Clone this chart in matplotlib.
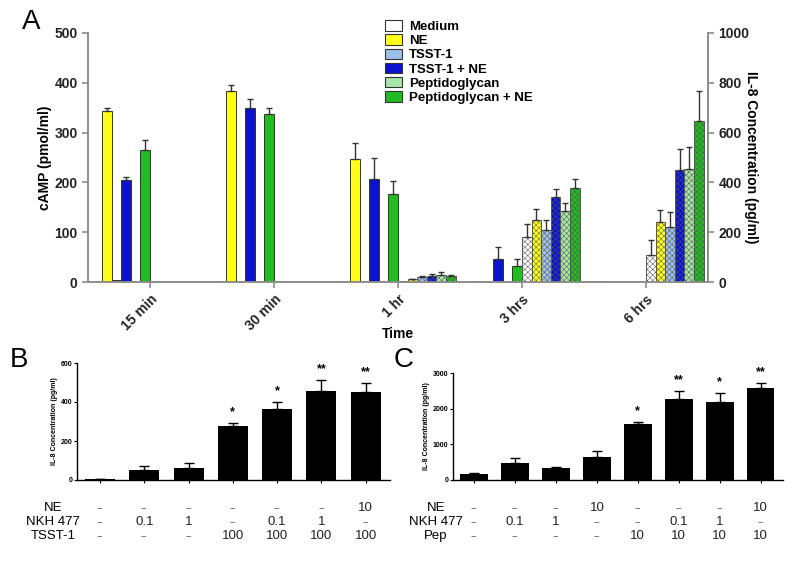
import numpy as np
import matplotlib
matplotlib.use("Agg")
import matplotlib.pyplot as plt
from matplotlib.patches import Patch
from matplotlib.transforms import blended_transform_factory

nan = np.nan

# panel A
times = ["15 min", "30 min", "1 hr", "3 hrs", "6 hrs"]
treatments = ["Medium", "NE", "TSST-1", "TSST-1 + NE", "Peptidoglycan", "Peptidoglycan + NE"]
colors = ["#ffffff", "#ffff1a", "#9cc0ea", "#0a14d0", "#a8e6a8", "#22bb22"]

# cAMP (left axis), order = treatments
camp_medium = [nan, nan, nan, nan, nan]
camp_ne = [344, 383, 246, 2, 2]
camp_tsst = [4, nan, nan, nan, nan]
camp_tsst_ne = [205, 349, 207, 47, nan]
camp_pep = [nan, nan, nan, nan, nan]
camp_pep_ne = [266, 338, 177, 32, nan]

camp_err_medium = [0, 0, 0, 0, 0]
camp_err_ne = [6, 13, 33, 0, 0]
camp_err_tsst = [0, 0, 0, 0, 0]
camp_err_tsst_ne = [5, 18, 42, 23, 0]
camp_err_pep = [0, 0, 0, 0, 0]
camp_err_pep_ne = [19, 11, 25, 15, 0]

# IL-8 (right axis)
il8_medium = [nan, nan, 3, 180, 109]
il8_ne = [nan, nan, 12, 247, 239]
il8_tsst = [nan, nan, 20, 210, 219]
il8_tsst_ne = [nan, nan, 25, 341, 448]
il8_pep = [nan, nan, 28, 286, 452]
il8_pep_ne = [nan, nan, 24, 378, 645]

il8_err_medium = [0, 0, 0, 53, 58]
il8_err_ne = [0, 0, 2, 46, 49]
il8_err_tsst = [0, 0, 3, 37, 62]
il8_err_tsst_ne = [0, 0, 7, 34, 87]
il8_err_pep = [0, 0, 12, 30, 92]
il8_err_pep_ne = [0, 0, 6, 36, 122]

# panel B
b_means = [5, 50, 63, 275, 364, 456, 453]
b_err = [2, 22, 22, 17, 36, 57, 44]
b_stars = ["", "", "", "*", "*", "**", "**"]
b_ne = ["--", "--", "--", "--", "--", "--", "10"]
b_nkh = ["--", "0.1", "1", "--", "0.1", "1", "--"]
b_tsst = ["--", "--", "--", "100", "100", "100", "100"]

# panel C
c_means = [177, 466, 326, 634, 1584, 2265, 2200, 2591]
c_err = [30, 150, 47, 168, 56, 233, 242, 130]
c_stars = ["", "", "", "", "*", "**", "*", "**"]
c_ne = ["--", "--", "--", "10", "--", "--", "--", "10"]
c_nkh = ["--", "0.1", "1", "--", "--", "0.1", "1", "--"]
c_pep = ["--", "--", "--", "--", "10", "10", "10", "10"]

plt.rcParams['font.family'] = ['Liberation Sans', 'DejaVu Sans']
plt.rcParams['hatch.linewidth'] = 0.35

W, H = 800, 561
fig = plt.figure(figsize=(8, 5.61), dpi=100)

def fx(px):
    return px / W

def fy(py):
    return 1 - py / H

# ---------- A ----------
ax = fig.add_axes([fx(88), fy(282), fx(708 - 88), fy(33) - fy(282)])
ax2 = ax.twinx()
x = np.arange(len(times))
bw = 0.0775
camp = [camp_medium, camp_ne, camp_tsst, camp_tsst_ne, camp_pep, camp_pep_ne]
camp_err = [camp_err_medium, camp_err_ne, camp_err_tsst, camp_err_tsst_ne, camp_err_pep, camp_err_pep_ne]
il8 = [il8_medium, il8_ne, il8_tsst, il8_tsst_ne, il8_pep, il8_pep_ne]
il8_err = [il8_err_medium, il8_err_ne, il8_err_tsst, il8_err_tsst_ne, il8_err_pep, il8_err_pep_ne]

for i in range(6):
    pos = x - (6 - i - 0.5) * bw
    vals = np.array(camp[i], dtype=float)
    ax.bar(pos, vals, bw, color=colors[i], edgecolor="#333333", linewidth=0.7)
    err = np.array(camp_err[i], dtype=float)
    ok = ~np.isnan(vals) & (err > 0)
    ax.errorbar(pos[ok], vals[ok], yerr=[np.zeros(ok.sum()), err[ok]], fmt="none",
                ecolor="#333333", elinewidth=1, capsize=2.5, capthick=1)

for i in range(6):
    pos = x + (i + 0.5) * bw
    vals = np.array(il8[i], dtype=float)
    ax2.bar(pos, vals, bw, color=colors[i], edgecolor="#555555", linewidth=0.7, hatch="xxxxxx")
    err = np.array(il8_err[i], dtype=float)
    ok = ~np.isnan(vals) & (err > 0)
    ax2.errorbar(pos[ok], vals[ok], yerr=[np.zeros(ok.sum()), err[ok]], fmt="none",
                 ecolor="#333333", elinewidth=1, capsize=2.5, capthick=1)

ax.set_xlim(-0.5, 4.5)
ax.set_ylim(0, 500)
ax2.set_ylim(0, 1000)
ax.set_yticks(range(0, 501, 100))
ax2.set_yticks(range(0, 1001, 200))
ax.set_xticks(x)
ax.set_xticklabels(times, rotation=45, ha="right", rotation_mode="anchor",
                   fontsize=10, fontweight="bold")
for a in (ax, ax2):
    a.spines["top"].set_visible(False)
    for s in ("left", "right", "bottom"):
        a.spines[s].set_color("#8c8c8c")
        a.spines[s].set_linewidth(1.2)
    a.tick_params(colors="#8c8c8c", labelcolor="#222222", width=1.2, length=4)
for lab in ax.get_yticklabels() + ax2.get_yticklabels():
    lab.set_fontweight("bold")
    lab.set_fontsize(10)
ax.set_ylabel("cAMP (pmol/ml)", fontsize=10, fontweight="bold")
ax.yaxis.set_label_coords(-36 / 620, 0.5)
ax2.set_ylabel("IL-8 Concentration (pg/ml)", fontsize=10, fontweight="bold", rotation=270)
ax2.yaxis.set_label_coords(1 + 50 / 620, 0.5)
ax.set_xlabel("Time", fontsize=10, fontweight="bold")
ax.xaxis.set_label_coords(0.5, -0.18)

handles = [Patch(facecolor=c, edgecolor="#333333", linewidth=0.8) for c in colors]
fig.legend(handles, treatments, loc="upper left", bbox_to_anchor=(fx(380), fy(15)),
           frameon=False, prop={"weight": "bold", "size": 9.5}, handlelength=1.3,
           handleheight=0.85, labelspacing=0.1, handletextpad=0.5, borderaxespad=0)

fig.text(fx(22), fy(22), "A", fontsize=20, va="center", ha="left")

# ---------- B / C ----------
def small_panel(rect, means, err, stars, ymax, ystep, rows, row_names, ylab_x):
    a = fig.add_axes(rect)
    xs = np.arange(len(means))
    a.bar(xs, means, 0.68, color="black")
    a.errorbar(xs, means, yerr=[np.zeros(len(means)), err], fmt="none", ecolor="black",
               elinewidth=1, capsize=3.5, capthick=1)
    a.set_ylim(0, ymax)
    a.set_yticks(np.arange(0, ymax + 1, ystep))
    a.set_xlim(-0.52, len(means) - 0.45)
    a.set_xticks(xs)
    a.set_xticklabels([])
    for s in ("top", "right"):
        a.spines[s].set_visible(False)
    a.spines["left"].set_linewidth(1)
    a.spines["bottom"].set_linewidth(1)
    a.tick_params(axis="both", labelsize=5, length=2.5, width=0.8, pad=1)
    for lab in a.get_yticklabels():
        lab.set_fontweight("bold")
    a.set_ylabel("IL-8 Concentration (pg/ml)", fontsize=5, fontweight="bold", labelpad=2)
    for xi, m, e, s in zip(xs, means, err, stars):
        if s:
            a.text(xi, m + e + ymax * 0.04, s, ha="center", va="bottom", fontsize=9,
                   fontweight="bold")
    tr = blended_transform_factory(a.transData, fig.transFigure)
    for row, py in zip(rows, (508, 522, 536)):
        for xi, t in zip(xs, row):
            a.text(xi, fy(py), t, transform=tr, ha="center", va="center",
                   fontsize=9.5 if t != "--" else 7, color="#222222" if t != "--" else "#555555")
    for name, py in zip(row_names, (508, 522, 536)):
        fig.text(fx(ylab_x), fy(py), name, ha="center", va="center", fontsize=9.5)
    return a

small_panel([fx(77), fy(480), fx(390 - 77), fy(363) - fy(480)], b_means, b_err, b_stars,
            600, 200, [b_ne, b_nkh, b_tsst], ["NE", "NKH 477", "TSST-1"], 53)
small_panel([fx(453), fy(480), fx(783 - 453), fy(373) - fy(480)], c_means, c_err, c_stars,
            3000, 1000, [c_ne, c_nkh, c_pep], ["NE", "NKH 477", "Pep"], 436)

fig.text(fx(10), fy(360), "B", fontsize=20, va="center", ha="left")
fig.text(fx(394), fy(360), "C", fontsize=20, va="center", ha="left")

fig.savefig("out.png", dpi=100)
